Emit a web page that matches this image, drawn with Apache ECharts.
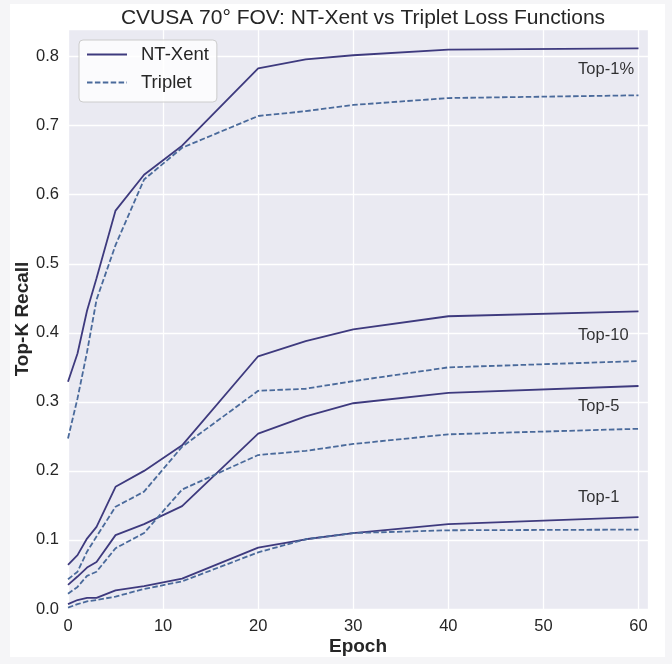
<!DOCTYPE html>
<html>
<head>
<meta charset="utf-8">
<script src="https://cdn.jsdelivr.net/npm/echarts@6/dist/echarts.min.js"></script>
<style>
  html, body { margin: 0; padding: 0; background: #f5f5f7; }
  #chart { width: 672px; height: 664px; }
</style>
</head>
<body>
<div id="chart"></div>
<script>
// epochs at which recall was measured
var epochs = [0, 1, 2, 3, 5, 8, 12, 20, 25, 30, 40, 60];

// NT-Xent loss
var ntTop1pct = [0.329, 0.370, 0.432, 0.479, 0.577, 0.629, 0.671, 0.783, 0.796, 0.802, 0.810, 0.812];
var ntTop10   = [0.064, 0.078, 0.102, 0.119, 0.177, 0.200, 0.237, 0.366, 0.388, 0.405, 0.424, 0.431];
var ntTop5    = [0.035, 0.047, 0.060, 0.068, 0.107, 0.123, 0.149, 0.254, 0.279, 0.298, 0.313, 0.323];
var ntTop1    = [0.007, 0.013, 0.016, 0.016, 0.027, 0.033, 0.044, 0.089, 0.101, 0.110, 0.123, 0.133];

// Triplet loss
var trTop1pct = [0.247, 0.305, 0.372, 0.448, 0.527, 0.622, 0.668, 0.714, 0.721, 0.730, 0.740, 0.744];
var trTop10   = [0.043, 0.054, 0.083, 0.105, 0.148, 0.170, 0.235, 0.316, 0.319, 0.330, 0.350, 0.359];
var trTop5    = [0.022, 0.032, 0.048, 0.054, 0.088, 0.110, 0.173, 0.223, 0.229, 0.239, 0.253, 0.261];
var trTop1    = [0.002, 0.007, 0.011, 0.013, 0.018, 0.029, 0.040, 0.082, 0.101, 0.110, 0.114, 0.115];

// curve labels: [epoch, recall, text]
var curveLabels = [
  [53.65, 0.7815, 'Top-1%'],
  [53.65, 0.3965, 'Top-10'],
  [53.65, 0.2928, 'Top-5'],
  [53.65, 0.162, 'Top-1']
];

var FONT = '"Liberation Sans", Arial, sans-serif';
var TXT = '#262626';
var NT_COLOR = '#3e3a7e';
var TR_COLOR = '#4a6a9b';

function pairs(vals) {
  return epochs.map(function (e, i) { return [e, vals[i]]; });
}

function lineSeries(name, vals, color, dashed) {
  return {
    name: name,
    type: 'line',
    data: pairs(vals),
    symbol: 'none',
    showSymbol: false,
    smooth: false,
    lineStyle: {
      color: color,
      width: 1.8,
      type: dashed ? [5.5, 2.4] : 'solid'
    },
    itemStyle: { color: color },
    z: 3
  };
}

var chart = echarts.init(document.getElementById('chart'));

chart.setOption({
  backgroundColor: 'transparent',
  animation: false,
  graphic: [{
    type: 'rect',
    z: -10,
    silent: true,
    shape: { x: 10, y: 4, width: 655, height: 653 },
    style: { fill: '#ffffff' }
  }],
  title: {
    text: 'CVUSA 70° FOV: NT-Xent vs Triplet Loss Functions',
    left: 358,
    top: 3,
    textAlign: 'center',
    textStyle: { fontFamily: FONT, fontSize: 21, fontWeight: 'normal', color: TXT }
  },
  legend: {
    data: ['NT-Xent', 'Triplet'],
    orient: 'vertical',
    left: 79,
    top: 40,
    itemWidth: 40,
    itemHeight: 18,
    itemGap: 9,
    padding: [5, 8, 10, 7],
    itemStyle: { opacity: 0, borderWidth: 0 },
    backgroundColor: 'rgba(255,255,255,0.8)',
    borderColor: '#cccccc',
    borderWidth: 1,
    borderRadius: 4,
    textStyle: { fontFamily: FONT, fontSize: 18.5, color: TXT, padding: [0, 0, 0, 9] }
  },
  grid: {
    left: 68,
    right: 24,
    top: 29,
    bottom: 55,
    show: true,
    backgroundColor: '#eaeaf2',
    borderWidth: 0
  },
  xAxis: {
    type: 'value',
    min: 0,
    max: 61,
    interval: 10,
    name: 'Epoch',
    nameLocation: 'middle',
    nameGap: 28,
    nameMoveOverlap: false,
    nameTextStyle: { fontFamily: FONT, fontSize: 19, fontWeight: 'bold', color: TXT },
    axisLine: { show: false },
    axisTick: { show: false },
    axisLabel: { fontFamily: FONT, fontSize: 16.5, color: TXT, margin: 9, showMaxLabel: false },
    splitLine: { show: true, lineStyle: { color: '#ffffff', width: 1.3 } }
  },
  yAxis: {
    type: 'value',
    min: 0,
    max: 0.84,
    interval: 0.1,
    name: 'Top-K Recall',
    nameLocation: 'middle',
    nameGap: 36,
    nameMoveOverlap: false,
    nameTextStyle: { fontFamily: FONT, fontSize: 19, fontWeight: 'bold', color: TXT },
    axisLine: { show: false },
    axisTick: { show: false },
    axisLabel: {
      fontFamily: FONT, fontSize: 16.5, color: TXT, margin: 9, showMaxLabel: false,
      formatter: function (v) { return v.toFixed(1); }
    },
    splitLine: { show: true, lineStyle: { color: '#ffffff', width: 1.3 } }
  },
  series: [
    lineSeries('NT-Xent', ntTop1pct, NT_COLOR, false),
    lineSeries('NT-Xent', ntTop10, NT_COLOR, false),
    lineSeries('NT-Xent', ntTop5, NT_COLOR, false),
    lineSeries('NT-Xent', ntTop1, NT_COLOR, false),
    lineSeries('Triplet', trTop1pct, TR_COLOR, true),
    lineSeries('Triplet', trTop10, TR_COLOR, true),
    lineSeries('Triplet', trTop5, TR_COLOR, true),
    lineSeries('Triplet', trTop1, TR_COLOR, true),
    {
      name: 'curve labels',
      type: 'scatter',
      data: curveLabels,
      symbolSize: 0,
      silent: true,
      label: {
        show: true,
        position: 'right',
        distance: 0,
        verticalAlign: 'middle',
        fontFamily: FONT,
        fontSize: 16.5,
        color: '#000000',
        formatter: function (p) { return p.data[2]; }
      },
      z: 4
    }
  ]
});
</script>
</body>
</html>
